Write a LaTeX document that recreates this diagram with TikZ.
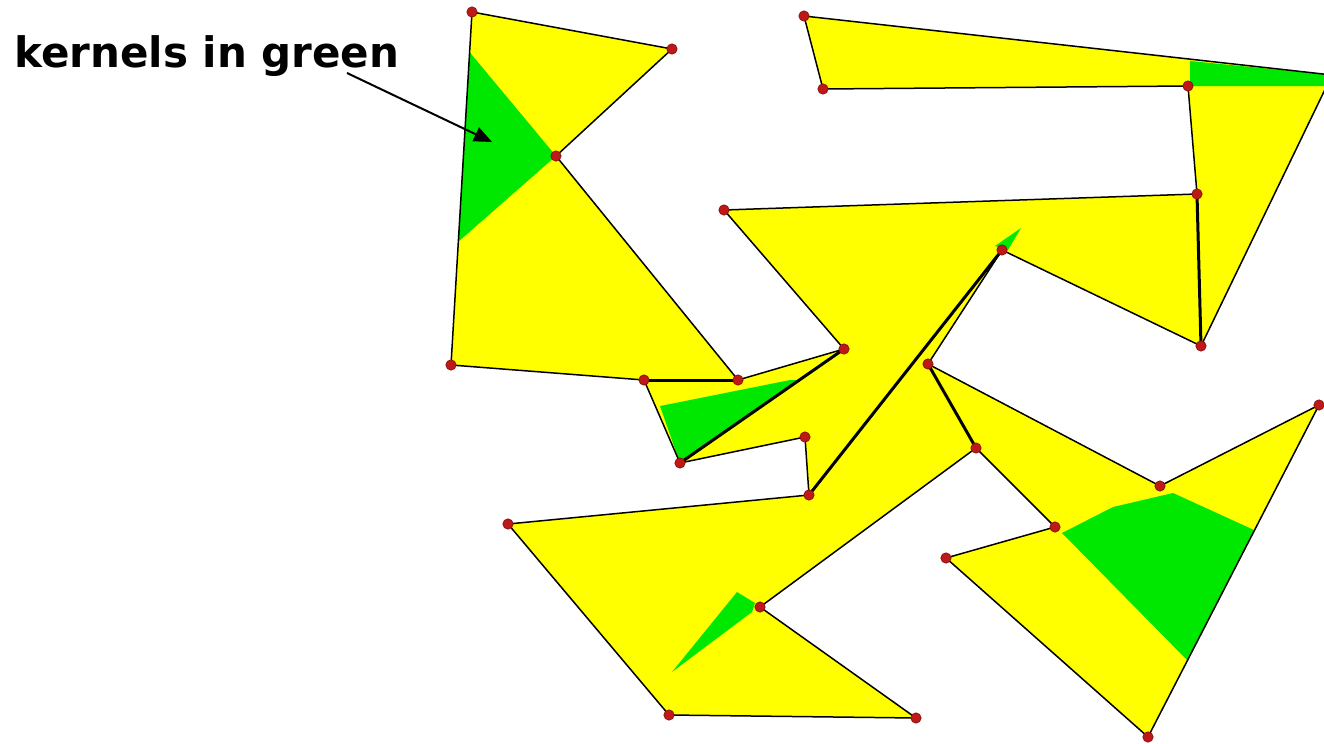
\documentclass[tikz,border=0pt]{standalone}
\usepackage{fontspec}
\newfontfamily\labelfont{DejaVu Sans}
\usetikzlibrary{arrows.meta}
\definecolor{polyyellow}{RGB}{255,255,0}
\definecolor{kernelgreen}{RGB}{0,232,0}
\definecolor{dotred}{RGB}{190,25,25}
\definecolor{dotedge}{RGB}{130,10,10}
\tikzset{
  edgeline/.style={black, line width=0.75pt, line join=round},
  diagline/.style={black, line width=1.5pt, line cap=round},
  vdot/.style={fill=dotred, draw=dotedge, line width=0.3pt},
  kernel/.style={fill=kernelgreen},
  labeltext/.style={font=\labelfont\bfseries\fontsize{21}{24}\selectfont, inner sep=0pt, anchor=base west},
  pointer/.style={black, line width=1pt, -{Triangle[length=9pt,width=7.5pt]}}
}
\begin{document}
\begin{tikzpicture}[x=0.5pt,y=-0.5pt]
\useasboundingbox (0,0) rectangle (1324,744);
\clip (0,0) rectangle (1324,744);
% vertices
\coordinate (A) at (472,12);
\coordinate (B) at (672,49);
\coordinate (C) at (556,156);
\coordinate (D) at (451,365);
\coordinate (E) at (644,380);
\coordinate (F) at (738,380);
\coordinate (G) at (844,349);
\coordinate (H) at (724,210);
\coordinate (I) at (1197,194);
\coordinate (J) at (1188,86);
\coordinate (K) at (823,89);
\coordinate (L) at (804,16);
\coordinate (M) at (1332,75);
\coordinate (N) at (1201,346);
\coordinate (O) at (1002,250);
\coordinate (T) at (928,364);
\coordinate (V) at (1160,486);
\coordinate (W) at (1319,405);
\coordinate (X) at (1148,737);
\coordinate (Y) at (946,558);
\coordinate (Z) at (1055,527);
\coordinate (U) at (976,448);
\coordinate (S) at (760,607);
\coordinate (S2) at (916,718);
\coordinate (S3) at (669,715);
\coordinate (S4) at (508,524);
\coordinate (P) at (809,495);
\coordinate (Q) at (805,437);
\coordinate (R) at (680,463);
% polygon fill
\fill[polyyellow] (A) -- (B) -- (C) -- (F) -- (G) -- (H) -- (I) -- (J) -- (K) -- (L) -- (M) -- (N) -- (O) -- (T) -- (V) -- (W) -- (X) -- (Y) -- (Z) -- (U) -- (S) -- (S2) -- (S3) -- (S4) -- (P) -- (Q) -- (R) -- (E) -- (D) -- cycle;
% kernels
\fill[kernel] (469.5,52) -- (C) -- (458,242) -- cycle;
\fill[kernel] (660,406) -- (790,380) -- (799,380) -- (R) -- cycle;
\fill[kernel] (1190,61) -- (M) -- (1326,86) -- (1190,86) -- cycle;
\fill[kernel] (995,246) -- (1021,228) -- (1008,250) -- cycle;
\fill[kernel] (672,672) -- (737,592) -- (755,603) -- (752,612) -- cycle;
\fill[kernel] (1062,533) -- (1113,507) -- (1173,493) -- (1254,530) -- (1187,660) -- cycle;
% boundary
\draw[edgeline] (A) -- (B) -- (C) -- (F) -- (G) -- (H) -- (I) -- (J) -- (K) -- (L) -- (M) -- (N) -- (O) -- (T) -- (V) -- (W) -- (X) -- (Y) -- (Z) -- (U) -- (S) -- (S2) -- (S3) -- (S4) -- (P) -- (Q) -- (R) -- (E) -- (D) -- cycle;
% diagonals
\draw[diagline] (E) -- (F);
\draw[diagline] (R) -- (G);
\draw[diagline] (O) -- (P);
\draw[diagline] (I) -- (N);
\draw[diagline] (T) -- (U);
% vertex dots
\foreach \v in {A,B,C,D,E,F,G,H,I,J,K,L,N,O,T,V,W,X,Y,Z,U,S,S2,S3,S4,P,Q,R}
  \fill[vdot] (\v) circle (2.6pt);
% label and pointer
\node[labeltext] (lbl) at (14,68) {kernels in green};
\coordinate (arrS) at (347,73);
\coordinate (arrE) at (492,142);
\draw[pointer] (arrS) -- (arrE);
\end{tikzpicture}
\end{document}
